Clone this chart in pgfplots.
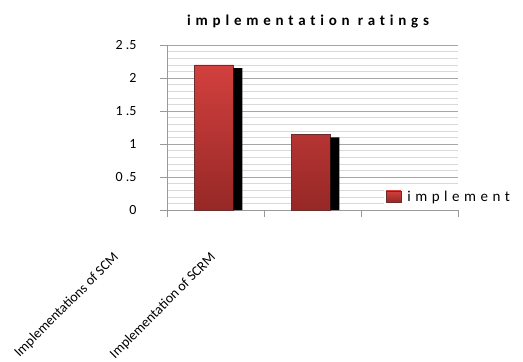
\documentclass[border=0pt]{standalone}
\usepackage{pgfplots}
\pgfplotsset{compat=1.18}
\usepackage{fontspec}
\setmainfont{Carlito}
\newfontfamily\titlefont[LetterSpace=32, Ligatures={NoCommon}]{Carlito}
\newfontfamily\legfont[LetterSpace=30, Ligatures={NoCommon}]{Carlito}
\definecolor{bartop}{RGB}{210,64,62}
\definecolor{barbot}{RGB}{150,40,38}
\begin{document}
\begin{tikzpicture}
\useasboundingbox (0,0) rectangle (523pt,362pt);
\begin{axis}[
  at={(167pt,152pt)}, anchor=south west,
  scale only axis, width=291pt, height=165pt,
  xmin=-0.5, xmax=2.5, ymin=0, ymax=2.5,
  axis lines=left,
  axis line style={-, draw=gray!80},
  xtick={-0.5,0.5,1.5,2.5},
  xticklabels={Implementations of SCM, Implementation of SCRM, , },
  xticklabel style={font=\fontsize{14}{14}\selectfont, anchor=east, xshift=-48pt, yshift=-36pt, rotate=45},
  ytick={0,0.5,1,1.5,2,2.5},
  yticklabels={0,0\hspace{3pt}.5,1,1\hspace{3pt}.5,2,2\hspace{3pt}.5},
  yticklabel style={font=\fontsize{14}{14}\selectfont, xshift=-20pt},
  tick align=outside,
  major tick length=7pt,
  minor tick length=0pt,
  tick style={gray!80, thin},
  minor y tick num=4,
  ymajorgrids, yminorgrids,
  major grid style={gray!70, thin},
  minor grid style={gray!30, thin},
  title={\titlefont\bfseries\fontsize{15}{15}\selectfont implementation ratings},
  title style={at={(0.485,1)}, anchor=center, yshift=17pt},
  legend style={at={(0.745,0.079)}, anchor=west, draw=none, fill=white, inner sep=2pt,
    font=\legfont\fontsize{15}{15}\selectfont},
  legend image code/.code={\path[top color=bartop, bottom color=barbot] (0pt,-5pt) rectangle (15pt,6pt); \path (19pt,0pt);},
  clip=false,
]
\addplot[ybar, bar width=39pt, bar shift=-1.5pt, top color=bartop, bottom color=barbot, draw=gray!60!red!60!black, line width=0.4pt]
  coordinates {(0,2.2) (1,1.15)};
\addlegendentry{implement}
\addplot[ybar, bar width=9pt, bar shift=22.5pt, fill=black, draw=none, forget plot]
  coordinates {(0,2.15) (1,1.1)};
\end{axis}
\end{tikzpicture}
\end{document}
